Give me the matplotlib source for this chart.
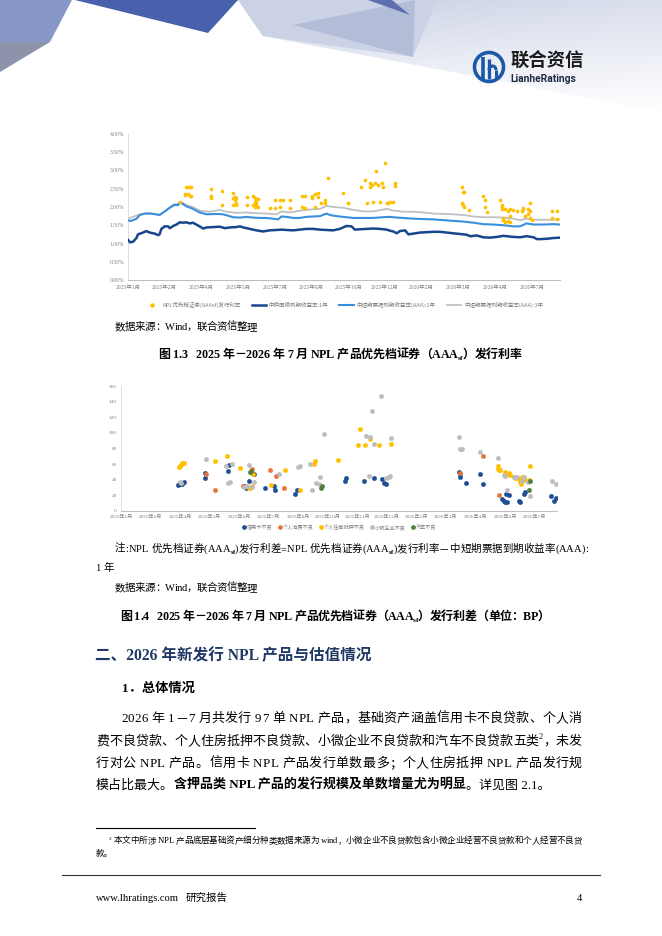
import numpy as np
import matplotlib
matplotlib.use("Agg")
import matplotlib.pyplot as plt
from matplotlib import font_manager
from matplotlib.font_manager import FontProperties
from matplotlib.ft2font import FT2Font
from matplotlib.lines import Line2D
from matplotlib.patches import Polygon, Circle, Arc

# ---------------- chart 1: AAAsf issuance rate vs benchmark yields (%) ----------------
# x is position along the date axis, in tick intervals (0 = 2025年1月)
ticks_1 = ["2025年1月", "2025年2月", "2025年4月", "2025年5月", "2025年7月", "2025年8月",
           "2025年10月", "2025年12月", "2026年2月", "2026年3月", "2026年4月", "2026年7月"]

gov1y_x = [0.00, 0.06, 0.14, 0.23, 0.27, 0.41, 0.50, 0.59, 0.73, 0.82, 0.86, 0.91, 1.00, 1.09,
           1.14, 1.23, 1.32, 1.41, 1.50, 1.59, 1.68, 1.77, 1.86, 1.95, 2.05, 2.14, 2.32, 2.50,
           2.64, 2.77, 2.95, 3.05, 3.14, 3.32, 3.50, 3.68, 3.86, 4.05, 4.18, 4.32, 4.50, 4.68,
           4.86, 5.05, 5.23, 5.41, 5.59, 5.77, 5.95, 6.09, 6.18, 6.32, 6.50, 6.68, 6.86, 7.05,
           7.14, 7.23, 7.32, 7.41, 7.55, 7.64, 7.77, 7.95, 8.14, 8.32, 8.50, 8.68, 8.86, 9.05,
           9.23, 9.32, 9.50, 9.68, 9.86, 10.05, 10.23, 10.32, 10.50, 10.68, 10.86, 11.05, 11.14,
           11.23, 11.41, 11.59, 11.77]
gov1y = [1.10, 1.03, 1.05, 1.15, 1.25, 1.30, 1.34, 1.30, 1.27, 1.23, 1.25, 1.40, 1.47, 1.47,
         1.42, 1.48, 1.52, 1.58, 1.57, 1.58, 1.55, 1.57, 1.52, 1.47, 1.41, 1.44, 1.45, 1.46,
         1.42, 1.44, 1.45, 1.47, 1.44, 1.40, 1.36, 1.33, 1.36, 1.37, 1.38, 1.37, 1.36, 1.38,
         1.40, 1.40, 1.38, 1.37, 1.36, 1.40, 1.48, 1.47, 1.38, 1.39, 1.40, 1.41, 1.40, 1.38,
         1.35, 1.33, 1.28, 1.34, 1.36, 1.25, 1.27, 1.30, 1.31, 1.32, 1.32, 1.30, 1.28, 1.26,
         1.24, 1.20, 1.22, 1.17, 1.16, 1.18, 1.21, 1.20, 1.18, 1.17, 1.20, 1.17, 1.12,
         1.12, 1.13, 1.15, 1.16]

mtn1y_x = [0.00, 0.09, 0.23, 0.32, 0.45, 0.59, 0.77, 0.86, 1.00, 1.14, 1.27, 1.36, 1.41, 1.50,
           1.59, 1.77, 1.95, 2.14, 2.41, 2.59, 2.73, 2.86, 3.05, 3.23, 3.41, 3.59, 3.77, 3.95,
           4.09, 4.18, 4.32, 4.50, 4.68, 4.86, 5.05, 5.23, 5.41, 5.50, 5.68, 5.86, 6.14, 6.41,
           6.68, 6.95, 7.14, 7.32, 7.50, 7.77, 8.05, 8.32, 8.59, 8.86, 9.14, 9.41, 9.68, 9.95,
           10.23, 10.50, 10.68, 10.86, 11.05, 11.32, 11.59, 11.77]
mtn1y = [1.63, 1.62, 1.68, 1.78, 1.82, 1.82, 1.80, 1.78, 1.88, 1.98, 2.06, 2.05, 2.12, 2.08,
         2.02, 1.95, 1.85, 1.80, 1.81, 1.80, 1.76, 1.72, 1.71, 1.73, 1.71, 1.70, 1.70, 1.68,
         1.66, 1.74, 1.73, 1.70, 1.70, 1.73, 1.74, 1.75, 1.82, 1.78, 1.75, 1.73, 1.70, 1.70,
         1.70, 1.72, 1.73, 1.71, 1.70, 1.68, 1.67, 1.66, 1.64, 1.62, 1.60, 1.57, 1.53, 1.52,
         1.50, 1.47, 1.47, 1.55, 1.52, 1.52, 1.53, 1.52]

mtn3y_x = [0.00, 0.32, 0.59, 0.86, 1.05, 1.23, 1.36, 1.45, 1.59, 1.77, 1.95, 2.23, 2.50, 2.68,
           2.95, 3.23, 3.50, 3.77, 4.05, 4.18, 4.41, 4.68, 4.95, 5.23, 5.41, 5.59, 5.86, 6.14,
           6.41, 6.68, 6.91, 7.05, 7.23, 7.50, 7.77, 8.05, 8.32, 8.59, 8.86, 9.14, 9.41, 9.68,
           9.95, 10.23, 10.50, 10.68, 10.86, 11.05, 11.32, 11.59, 11.77]
mtn3y = [1.68, 1.80, 1.83, 1.78, 1.92, 2.06, 2.08, 2.14, 2.05, 2.00, 1.90, 1.87, 1.92, 1.87,
         1.84, 1.85, 1.83, 1.82, 1.80, 1.88, 1.85, 1.90, 1.93, 1.95, 2.03, 2.00, 1.98, 1.92,
         1.88, 1.88, 1.92, 1.95, 1.90, 1.87, 1.87, 1.85, 1.82, 1.81, 1.80, 1.78, 1.74, 1.72,
         1.72, 1.71, 1.68, 1.64, 1.68, 1.65, 1.65, 1.65, 1.66]

npl_rate_pts = [
    (1.41, 2.15), (1.55, 2.35), (1.55, 2.32), (1.59, 2.55), (1.64, 2.35), (1.64, 2.55),
    (1.68, 2.30), (1.68, 2.55), (1.73, 2.55), (1.73, 2.30),
    (2.27, 2.50), (2.27, 2.30), (2.27, 2.25), (2.55, 2.43), (2.55, 2.05),
    (2.86, 2.38), (2.86, 2.25), (2.86, 2.05), (2.91, 2.20), (2.91, 2.28),
    (2.95, 2.10), (2.95, 2.05), (2.95, 2.25), (3.23, 2.27), (3.23, 2.05),
    (3.41, 2.30), (3.41, 2.05), (3.45, 2.25), (3.45, 2.00), (3.45, 2.15),
    (3.50, 2.20), (3.50, 2.10), (3.50, 2.05), (3.55, 2.22), (3.55, 2.00),
    (3.86, 1.98), (4.00, 2.18), (4.00, 1.98), (4.14, 2.00), (4.14, 2.18), (4.23, 2.20),
    (4.41, 1.98), (4.41, 2.18), (4.73, 2.30), (4.73, 2.00), (4.82, 1.98), (4.82, 2.30),
    (5.00, 2.30), (5.00, 2.25), (5.09, 2.35), (5.09, 2.00), (5.18, 2.38), (5.18, 2.28),
    (5.27, 2.10), (5.36, 2.20), (5.36, 2.10), (5.45, 2.80), (5.86, 2.38), (6.00, 2.10),
    (6.00, 2.12), (6.36, 2.55), (6.45, 2.75), (6.50, 2.10), (6.59, 2.55), (6.59, 2.65),
    (6.64, 2.60), (6.68, 2.15), (6.73, 2.65), (6.77, 3.00), (6.82, 2.60), (6.86, 2.15),
    (6.91, 2.65), (6.95, 2.55), (7.00, 3.20), (7.05, 2.12), (7.09, 2.10), (7.14, 2.15),
    (7.23, 2.15), (7.27, 2.65), (7.27, 2.58),
    (9.09, 2.55), (9.09, 2.10), (9.12, 2.40), (9.12, 2.05), (9.15, 2.40), (9.15, 2.00),
    (9.30, 1.93), (9.68, 2.30), (9.73, 2.00), (9.73, 2.20), (9.77, 1.85),
    (10.14, 2.18), (10.18, 2.05), (10.18, 2.00), (10.18, 1.95), (10.23, 1.70), (10.23, 1.65),
    (10.27, 1.95), (10.27, 1.60), (10.36, 1.62), (10.36, 1.90), (10.41, 1.75), (10.41, 1.95),
    (10.41, 1.60), (10.50, 1.92), (10.59, 1.90), (10.73, 1.88), (10.77, 1.95), (10.77, 1.98),
    (10.82, 1.75), (10.91, 1.95), (10.91, 1.80), (10.95, 2.10), (10.95, 1.90), (10.95, 1.70),
    (11.00, 1.65), (11.55, 1.90), (11.55, 1.70), (11.68, 1.88), (11.68, 1.68),
]

# ---------------- chart 2: AAAsf issuance spread by asset type (BP) ----------------
ticks_2 = ["2025年1月", "2025年2月", "2025年4月", "2025年5月", "2025年6月", "2025年7月",
           "2025年8月", "2025年10月", "2025年11月", "2025年12月", "2026年2月", "2026年3月",
           "2026年4月", "2026年6月", "2026年7月"]

credit_card = [
    (1.92, 33), (1.96, 35), (2.01, 34), (2.07, 34), (2.12, 37), (2.83, 48), (2.86, 42),
    (3.62, 51), (3.65, 59), (4.15, 32), (4.24, 30), (4.32, 39), (4.44, 48), (4.49, 47),
    (4.89, 30), (5.17, 32), (5.23, 27), (5.90, 22), (5.96, 27), (7.60, 38), (7.62, 42),
    (8.22, 39), (8.58, 42), (8.84, 41), (8.92, 36), (8.97, 35), (11.43, 50), (11.47, 47),
    (11.49, 44), (11.69, 36), (12.17, 47), (12.26, 35), (12.90, 15), (12.96, 13), (13.01, 12),
    (13.07, 12), (13.05, 22), (13.12, 21), (13.46, 13), (13.52, 11), (13.63, 22), (13.66, 24),
    (14.54, 19), (14.65, 13), (14.71, 16),
]
consumer = [
    (2.89, 47), (3.19, 27), (4.13, 32), (4.44, 54), (5.06, 53), (5.25, 45), (5.51, 30),
    (11.47, 49), (12.25, 70), (12.81, 20),
]
mortgage = [
    (1.95, 56), (1.99, 58), (2.03, 59), (2.08, 61), (2.12, 62), (3.19, 64), (3.59, 70),
    (4.04, 55), (4.32, 30), (4.38, 30), (4.44, 32), (4.47, 47), (5.09, 33), (5.56, 52),
    (6.07, 27), (6.52, 60), (6.58, 64), (7.34, 65), (8.01, 85), (8.10, 105), (8.27, 85),
    (8.42, 92), (8.72, 85), (9.15, 86), (12.75, 57), (12.77, 54), (12.80, 52), (12.84, 53),
    (13.01, 50), (13.07, 47), (13.13, 48), (13.18, 46), (13.30, 44), (13.35, 42), (13.46, 41),
    (13.52, 37), (13.54, 34), (13.58, 44), (13.63, 43), (13.69, 40), (13.80, 40), (13.83, 57),
]
small_micro = [
    (1.99, 37), (2.04, 36), (2.89, 67), (3.57, 57), (3.61, 36), (3.70, 37), (3.76, 60),
    (4.15, 31), (4.27, 32), (4.32, 59), (4.44, 31), (4.49, 37), (5.34, 47), (5.99, 56),
    (6.07, 58), (6.41, 60), (6.47, 27), (6.61, 36), (6.69, 35), (6.75, 44), (6.86, 99),
    (8.28, 96), (8.40, 45), (8.44, 95), (8.50, 128), (8.56, 86), (8.81, 147), (8.98, 42),
    (9.06, 44), (9.12, 45), (9.14, 93), (11.43, 95), (11.47, 80), (11.55, 79), (12.14, 76),
    (12.75, 68), (12.96, 46), (13.01, 45), (13.07, 27), (13.30, 44), (13.39, 44), (13.58, 39),
    (13.63, 44), (13.78, 37), (13.83, 19), (14.59, 38), (14.71, 35),
]
auto = [(4.36, 50), (4.40, 51), (6.78, 30), (6.81, 32), (13.80, 27), (13.83, 39)]

series_2 = [("信用卡不良", credit_card, "#1F4E96"),
            ("个人消费不良", consumer, "#E8743B"),
            ("个人住房抵押不良", mortgage, "#FFC000"),
            ("小微企业不良", small_micro, "#BDBDBD"),
            ("汽车不良", auto, "#4F7F3A")]

# ---------------- text helpers ----------------
FAM = ["Liberation Serif", "Noto Sans CJK SC"]
CJK = ["Noto Sans CJK SC", "DejaVu Sans"]
PX = 100 / 72.0
_fonts = {}


def advance(ch, size_px, weight):
    if ord(ch) >= 0x2E80:
        return size_px
    if weight not in _fonts:
        path = font_manager.findfont(FontProperties(family="Liberation Serif", weight=weight))
        _fonts[weight] = FT2Font(path)
    f = _fonts[weight]
    f.set_size(size_px / PX, 100)
    g = f.load_char(ord(ch))
    a = getattr(g, "linearHoriAdvance", 0) / 65536.0
    if not (0 < a < 2 * size_px):
        a = g.horiAdvance / 64.0
    return a


def write(ax, x, yc, runs, size_px, color="#000000", width=None):
    items = []
    for s, st in runs:
        w = "bold" if "b" in st else "normal"
        if "sub" in st:
            sz, dy = size_px * 0.62, size_px * 0.22
        elif "sup" in st:
            sz, dy = size_px * 0.62, -size_px * 0.42
        else:
            sz, dy = size_px, 0.0
        items.append([(ch, advance(ch, sz, w)) for ch in s] + [None])
        items[-1][-1] = (sz, w, dy, s)
    base = yc + 0.38 * size_px
    if width is None:
        cx = x
        for run in items:
            sz, w, dy, s = run[-1]
            ax.text(cx, base + dy, s, fontsize=sz / PX, fontweight=w, family=FAM,
                    color=color, ha="left", va="baseline")
            cx += sum(a for _, a in run[:-1])
        return
    flat = [(ch, a, run[-1]) for run in items for ch, a in run[:-1]]
    gap = (width - sum(a for _, a, _ in flat)) / max(len(flat) - 1, 1)
    cx = x
    for ch, a, (sz, w, dy, _) in flat:
        if ch != " ":
            ax.text(cx, base + dy, ch, fontsize=sz / PX, fontweight=w, family=FAM,
                    color=color, ha="left", va="baseline")
        cx += a + gap


# ---------------- page ----------------
fig = plt.figure(figsize=(6.62, 9.36), dpi=100)
page = fig.add_axes([0, 0, 1, 1])
page.axis("off")

# header decoration
hh, ww = 120, 430
yy, xx = np.mgrid[0:hh, 0:ww]
t = np.clip(1 - yy / 112.0, 0, 1) * (1 - 0.35 * xx / ww)
tint = np.array([0.78, 0.81, 0.89])
grad = 1 - t[..., None] * (1 - tint)
im = page.imshow(grad, extent=(232, 662, 120, 0), aspect="auto", interpolation="bilinear", zorder=0)
clip = Polygon([(238, 0), (662, 0), (662, 112), (263, 36)], closed=True, fc="none", ec="none",
               transform=page.transData)
page.add_patch(clip)
im.set_clip_path(clip)
page.add_patch(Polygon([(0, 0), (72, 0), (50, 42), (0, 42)], fc="#8798C8", ec="none", zorder=1))
page.add_patch(Polygon([(0, 42), (50, 42), (0, 72)], fc="#8C93AA", ec="none", zorder=1))
page.add_patch(Polygon([(75, 0), (238, 0), (208, 33)], fc="#4861AD", ec="none", zorder=1))
page.add_patch(Polygon([(238, 0), (437, 0), (413, 57), (263, 36)], fc="#CBD2E5", ec="none", zorder=1))
page.add_patch(Polygon([(293, 25), (415, 0), (413, 57)], fc="#B4BDD8", ec="none", zorder=1))
page.add_patch(Polygon([(368, 0), (392, 0), (410, 15)], fc="#5E6FAE", ec="none", zorder=2))

# logo
page.add_patch(Circle((489, 67), 14.5, fill=False, ec="#1C5AA8", lw=2.6, zorder=3))
page.plot([483, 483], [57, 79], color="#1C5AA8", lw=2.6, solid_capstyle="butt", zorder=3)
page.plot([489, 489], [59, 79], color="#1C5AA8", lw=2.4, solid_capstyle="butt", zorder=3)
page.add_patch(Arc((492.5, 70), 7, 8, theta1=180, theta2=360, color="#1C5AA8", lw=2.2, zorder=3))
page.plot([496, 496], [70, 79], color="#1C5AA8", lw=2.2, solid_capstyle="butt", zorder=3)
page.text(510, 61, "联合资信", fontsize=13.2, fontweight="bold", family=CJK, color="#1A1A1A",
          ha="left", va="center")
page.text(510, 79, "LianheRatings", fontsize=7.4, fontweight="bold", family=["Roboto", "DejaVu Sans"],
          color="#1F2A44", ha="left", va="center")

page.set_xlim(0, 662)
page.set_ylim(936, 0)

# captions and body text
write(page, 115, 326, [("数据来源：Wind，联合资信整理", "n")], 10.5, width=142)
write(page, 158, 353, [("图 1.3   2025 年－2026 年 7 月 NPL 产品优先档证券（AAA", "b"), ("sf", "bsub"),
                       ("）发行利率", "b")], 12, width=364)
write(page, 115, 548, [("注:NPL 优先档证券(AAA", "n"), ("sf", "sub"), (")发行利差=NPL 优先档证券(AAA", "n"),
                       ("sf", "sub"), (")发行利率－中短期票据到期收益率(AAA):", "n")], 10.5, width=473)
write(page, 96, 567, [("1 年", "n")], 10.5)
write(page, 115, 587, [("数据来源：Wind，联合资信整理", "n")], 10.5, width=142)
write(page, 120, 615, [("图 1.4   2025 年－2026 年 7 月 NPL 产品优先档证券（AAA", "b"), ("sf", "bsub"),
                       ("）发行利差（单位：BP）", "b")], 12, width=430)

write(page, 95, 654, [("二、2026 年新发行 NPL 产品与估值情况", "b")], 15.6, color="#1F3864")
write(page, 122, 687, [("1．总体情况", "b")], 13.3)
write(page, 121, 717, [("2026 年 1－7 月共发行 97 单 NPL 产品，基础资产涵盖信用卡不良贷款、个人消", "n")],
      13, width=461)
write(page, 96, 740, [("费不良贷款、个人住房抵押不良贷款、小微企业不良贷款和汽车不良贷款五类", "n"), ("2", "sup"),
                      ("，未发", "n")], 13, width=486)
write(page, 96, 762, [("行对公 NPL 产品。信用卡 NPL 产品发行单数最多；个人住房抵押 NPL 产品发行规", "n")],
      13, width=486)
write(page, 96, 784, [("模占比最大。", "n"), ("含押品类 NPL 产品的发行规模及单数增量尤为明显", "b"),
                      ("。详见图 2.1。", "n")], 13)

page.plot([96, 255], [828, 828], color="#000000", lw=0.8)
write(page, 109, 840, [("2", "sup"), (" 本文中所涉 NPL 产品底层基础资产细分种类数据来源为 wind，"
                                      "小微企业不良贷款包含小微企业经营不良贷款和个人经营不良贷", "n")],
      8.6, width=473)
write(page, 96, 853, [("款。", "n")], 8.6)

page.plot([62, 600], [875, 875], color="#333333", lw=0.8)
write(page, 96, 897, [("www.lhratings.com", "n")], 10.5)
write(page, 186, 897, [("研究报告", "n")], 10.5)
write(page, 577, 897, [("4", "n")], 10.5)

# ---------------- chart 1 ----------------
tick_col = "#808080"
ax1 = fig.add_axes([128 / 662, 1 - 280 / 936, 432 / 662, 146 / 936])
ax1.plot(mtn3y_x, mtn3y, color="#C0C0C0", lw=1.3, zorder=2)
ax1.plot(mtn1y_x, mtn1y, color="#3A8EE0", lw=1.5, zorder=3)
ax1.plot(gov1y_x, gov1y, color="#17468C", lw=1.8, zorder=4)
px, py = zip(*npl_rate_pts)
ax1.scatter(px, py, s=7, color="#FFC000", linewidths=0, zorder=5)
ax1.set_xlim(0, 11.77)
ax1.set_ylim(0, 4.0)
ax1.set_xticks(range(len(ticks_1)))
ax1.set_xticklabels(ticks_1)
ax1.set_yticks(np.arange(0, 4.01, 0.5))
ax1.set_yticklabels([f"{v:.2f}%" for v in np.arange(0, 4.01, 0.5)])
ax1.tick_params(length=0, labelsize=4.0, labelcolor=tick_col)
ax1.tick_params(axis="x", pad=3.5)
ax1.tick_params(axis="y", pad=3)
for lab in ax1.get_xticklabels() + ax1.get_yticklabels():
    lab.set_family(FAM)
for s in ("top", "right"):
    ax1.spines[s].set_visible(False)
ax1.spines["left"].set_color("#D9D9D9")
ax1.spines["left"].set_linewidth(0.6)
ax1.spines["bottom"].set_color("#BFBFBF")
ax1.spines["bottom"].set_linewidth(0.8)
handles1 = [Line2D([], [], marker="o", ls="none", color="#FFC000", ms=2.2),
            Line2D([], [], color="#17468C", lw=1.8),
            Line2D([], [], color="#3A8EE0", lw=1.5),
            Line2D([], [], color="#C0C0C0", lw=1.3)]
labels1 = ["NPL优先档证券(AAAsf)发行利率", "中债国债到期收益率:1年",
           "中短期票据到期收益率(AAA):1年", "中短期票据到期收益率(AAA):3年"]
ax1.legend(handles1, labels1, ncol=4, loc="center", bbox_to_anchor=(0.5, -0.171), frameon=False,
           prop=FontProperties(family=CJK, size=4.0), labelcolor="#7F7F7F", handlelength=2.6,
           handletextpad=0.5, columnspacing=2.0, borderaxespad=0)

# ---------------- chart 2 ----------------
ax2 = fig.add_axes([121 / 662, 1 - 511 / 936, 436 / 662, 125 / 936])
handles2 = []
for name, pts, col in series_2:
    sx, sy = zip(*pts)
    ax2.scatter(sx, sy, s=10, color=col, linewidths=0.3, edgecolors=col, zorder=3)
    handles2.append(Line2D([], [], marker="o", ls="none", color=col, ms=2.4))
ax2.set_xlim(0, 14.76)
ax2.set_ylim(0, 160)
ax2.set_xticks(range(len(ticks_2)))
ax2.set_xticklabels(ticks_2)
ax2.set_yticks(range(0, 161, 20))
ax2.tick_params(length=0, labelsize=3.7, labelcolor=tick_col)
ax2.tick_params(axis="x", pad=2.5)
ax2.tick_params(axis="y", pad=3)
for lab in ax2.get_xticklabels() + ax2.get_yticklabels():
    lab.set_family(FAM)
for s in ("top", "right"):
    ax2.spines[s].set_visible(False)
ax2.spines["left"].set_color("#D9D9D9")
ax2.spines["left"].set_linewidth(0.6)
ax2.spines["bottom"].set_color("#BFBFBF")
ax2.spines["bottom"].set_linewidth(0.8)
ax2.legend(handles2, [n for n, _, _ in series_2], ncol=5, loc="center", bbox_to_anchor=(0.5, -0.128),
           frameon=False, prop=FontProperties(family=CJK, size=3.7), labelcolor="#7F7F7F",
           handlelength=0.8, handletextpad=0.2, columnspacing=1.0, borderaxespad=0)

fig.savefig("out.png", dpi=100)
